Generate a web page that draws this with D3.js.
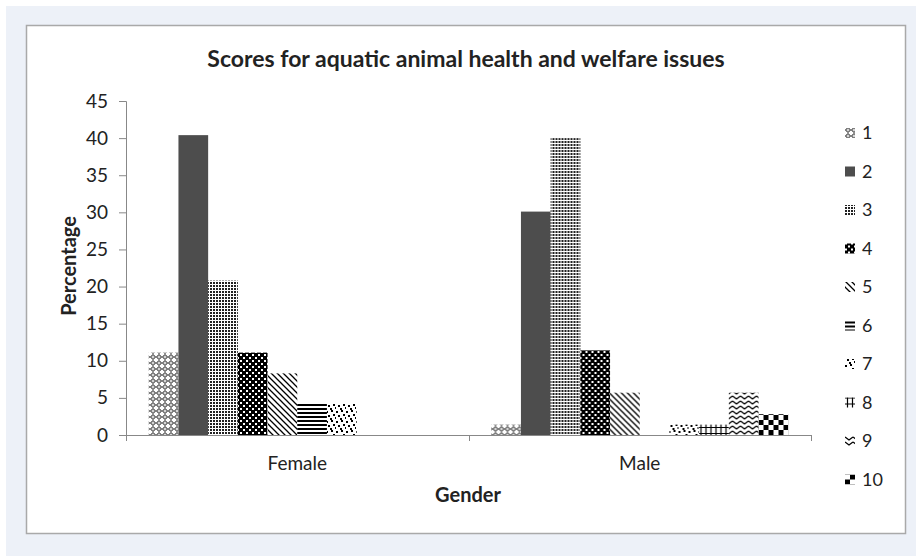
<!DOCTYPE html>
<html>
<head>
<meta charset="utf-8">
<script src="https://cdn.jsdelivr.net/npm/d3@7"></script>
<style>
  html, body { margin: 0; padding: 0; background: #ffffff; }
  svg { display: block; }
  text { font-family: Lato, "Open Sans", sans-serif; fill: #222; }
</style>
</head>
<body>
<svg id="chart" width="916" height="556"></svg>
<script>
// Survey scores (percent of respondents) by gender
const categories = ["Female", "Male"];
const scoreLabels = ["1", "2", "3", "4", "5", "6", "7", "8", "9", "10"];
const femaleValues = [11.1, 40.4, 20.8, 11.1, 8.3, 4.2, 4.2, 0, 0, 0];
const maleValues = [1.4, 30.1, 40.0, 11.4, 5.7, 0, 1.4, 1.4, 5.7, 2.8];
const yTicks = [0, 5, 10, 15, 20, 25, 30, 35, 40, 45];

const seriesValues = [femaleValues, maleValues];

const svg = d3.select("#chart");

// background panel and chart card
svg.append("rect").attr("x", 6).attr("y", 6).attr("width", 910).attr("height", 550)
  .attr("fill", "#edf1f8");
svg.append("rect").attr("x", 26.5).attr("y", 25.5).attr("width", 879).attr("height", 508)
  .attr("fill", "#ffffff").attr("stroke", "#a9a9a9").attr("stroke-width", 1.5);

// fill patterns for each score
const defs = svg.append("defs");
function pattern(id, w, h, bg, draw) {
  const p = defs.append("pattern").attr("id", id)
    .attr("patternUnits", "userSpaceOnUse").attr("width", w).attr("height", h);
  p.append("rect").attr("width", w).attr("height", h).attr("fill", bg);
  draw(p);
}
// 1: outlined diamonds
pattern("p1", 6, 6, "#fff", p => {
  p.append("path").attr("d", "M3,0.5L5.5,3L3,5.5L0.5,3Z").attr("fill", "none")
    .attr("stroke", "#000").attr("stroke-width", 1);
  p.append("rect").attr("x", 2.5).attr("y", 2.5).attr("width", 1).attr("height", 1).attr("fill", "#555");
});
// 2: solid dark grey
pattern("p2", 4, 4, "#4d4d4d", p => {});
// 3: fine dotted grid
pattern("p3", 3, 3, "#fff", p => {
  p.append("rect").attr("width", 2).attr("height", 2).attr("fill", "#222");
});
// 4: black with white dots
pattern("p4", 6, 6, "#000", p => {
  p.append("rect").attr("x", 0).attr("y", 0).attr("width", 2).attr("height", 2).attr("fill", "#fff");
  p.append("rect").attr("x", 3).attr("y", 3).attr("width", 2).attr("height", 2).attr("fill", "#fff");
});
// 5: downward diagonal lines
pattern("p5", 6, 6, "#fff", p => {
  p.append("path").attr("d", "M-1,-1L7,7M-1,5L1,7M5,-1L7,1").attr("stroke", "#000").attr("stroke-width", 1.3);
});
// 6: horizontal lines
pattern("p6", 4, 4, "#fff", p => {
  p.append("rect").attr("y", 0).attr("width", 4).attr("height", 2).attr("fill", "#000");
});
// 7: confetti
pattern("p7", 10, 10, "#fff", p => {
  [[0, 1], [5, 0], [2, 5], [7, 4], [4, 8], [9, 7]].forEach(([x, y]) =>
    p.append("rect").attr("x", x).attr("y", y).attr("width", 2).attr("height", 2).attr("fill", "#000"));
});
// 8: small grid of crosses
pattern("p8", 5, 6, "#fff", p => {
  p.append("path").attr("d", "M0,1.5H5M2.5,0V6").attr("stroke", "#000").attr("stroke-width", 1.2);
});
// 9: zigzag
pattern("p9", 8, 5, "#fff", p => {
  p.append("path").attr("d", "M0,1L4,4L8,1").attr("fill", "none").attr("stroke", "#000").attr("stroke-width", 1.3);
});
// 10: large checkerboard
pattern("p10", 10, 10, "#fff", p => {
  p.append("rect").attr("width", 5).attr("height", 5).attr("fill", "#000");
  p.append("rect").attr("x", 5).attr("y", 5).attr("width", 5).attr("height", 5).attr("fill", "#000");
});

// plot area
const plot = { left: 126, right: 811, top: 101, bottom: 435 };

const x0 = d3.scaleBand().domain(categories).range([plot.left, plot.right])
  .paddingInner(0).paddingOuter(0);
const x1 = d3.scaleBand().domain(scoreLabels).range([0, x0.bandwidth()])
  .paddingOuter(0.766).paddingInner(0);
const y = d3.scaleLinear().domain([0, 45]).range([plot.bottom, plot.top]);

// bars
const groups = svg.append("g").selectAll("g").data(categories).join("g")
  .attr("transform", d => `translate(${x0(d)},0)`);
groups.selectAll("rect")
  .data((c, ci) => scoreLabels.map((s, si) => ({ s, si, v: seriesValues[ci][si] })))
  .join("rect")
  .attr("x", d => x1(d.s))
  .attr("width", x1.bandwidth())
  .attr("y", d => y(d.v))
  .attr("height", d => y(0) - y(d.v))
  .attr("fill", d => `url(#p${d.si + 1})`);

// y axis
const yAxis = svg.append("g").attr("transform", `translate(${plot.left},0)`)
  .call(d3.axisLeft(y).tickValues(yTicks).tickSize(7).tickPadding(11));
yAxis.select(".domain").attr("stroke", "#888");
yAxis.selectAll(".tick line").attr("stroke", "#888");
yAxis.selectAll(".tick text").style("font-size", "19px").style("font-family", "Lato, sans-serif").attr("fill", "#222");

// x axis: line with ticks at category boundaries
const xAxisG = svg.append("g");
xAxisG.append("line").attr("x1", plot.left - 7).attr("x2", plot.right).attr("y1", plot.bottom + 0.5).attr("y2", plot.bottom + 0.5)
  .attr("stroke", "#888");
const boundaries = categories.map(c => x0(c)).concat([plot.right]);
xAxisG.selectAll("line.tk").data(boundaries).join("line").attr("class", "tk")
  .attr("x1", d => Math.round(d) + 0.5).attr("x2", d => Math.round(d) + 0.5)
  .attr("y1", plot.bottom).attr("y2", plot.bottom + 6).attr("stroke", "#888");
xAxisG.selectAll("text").data(categories).join("text")
  .attr("x", d => x0(d) + x0.bandwidth() / 2).attr("y", 470)
  .attr("text-anchor", "middle").style("font-size", "19px").text(d => d);

// titles
svg.append("text").attr("x", 466).attr("y", 67).attr("text-anchor", "middle")
  .style("font-size", "23px").style("font-weight", "bold").text("Scores for aquatic animal health and welfare issues");
svg.append("text").attr("x", 468).attr("y", 502).attr("text-anchor", "middle")
  .style("font-size", "20px").style("font-weight", "bold").text("Gender");
svg.append("text").attr("transform", "translate(76,266) rotate(-90)").attr("text-anchor", "middle")
  .style("font-size", "20px").style("font-weight", "bold").text("Percentage");

// legend
const legend = svg.append("g").selectAll("g").data(scoreLabels).join("g")
  .attr("transform", (d, i) => `translate(845,${133 + i * 38.5})`);
legend.append("rect").attr("x", 0).attr("y", -5).attr("width", 10).attr("height", 10)
  .attr("fill", (d, i) => `url(#p${i + 1})`);
legend.append("text").attr("x", 17).attr("y", 0).attr("dy", "0.35em")
  .style("font-size", "18px").text(d => d);
</script>
</body>
</html>
